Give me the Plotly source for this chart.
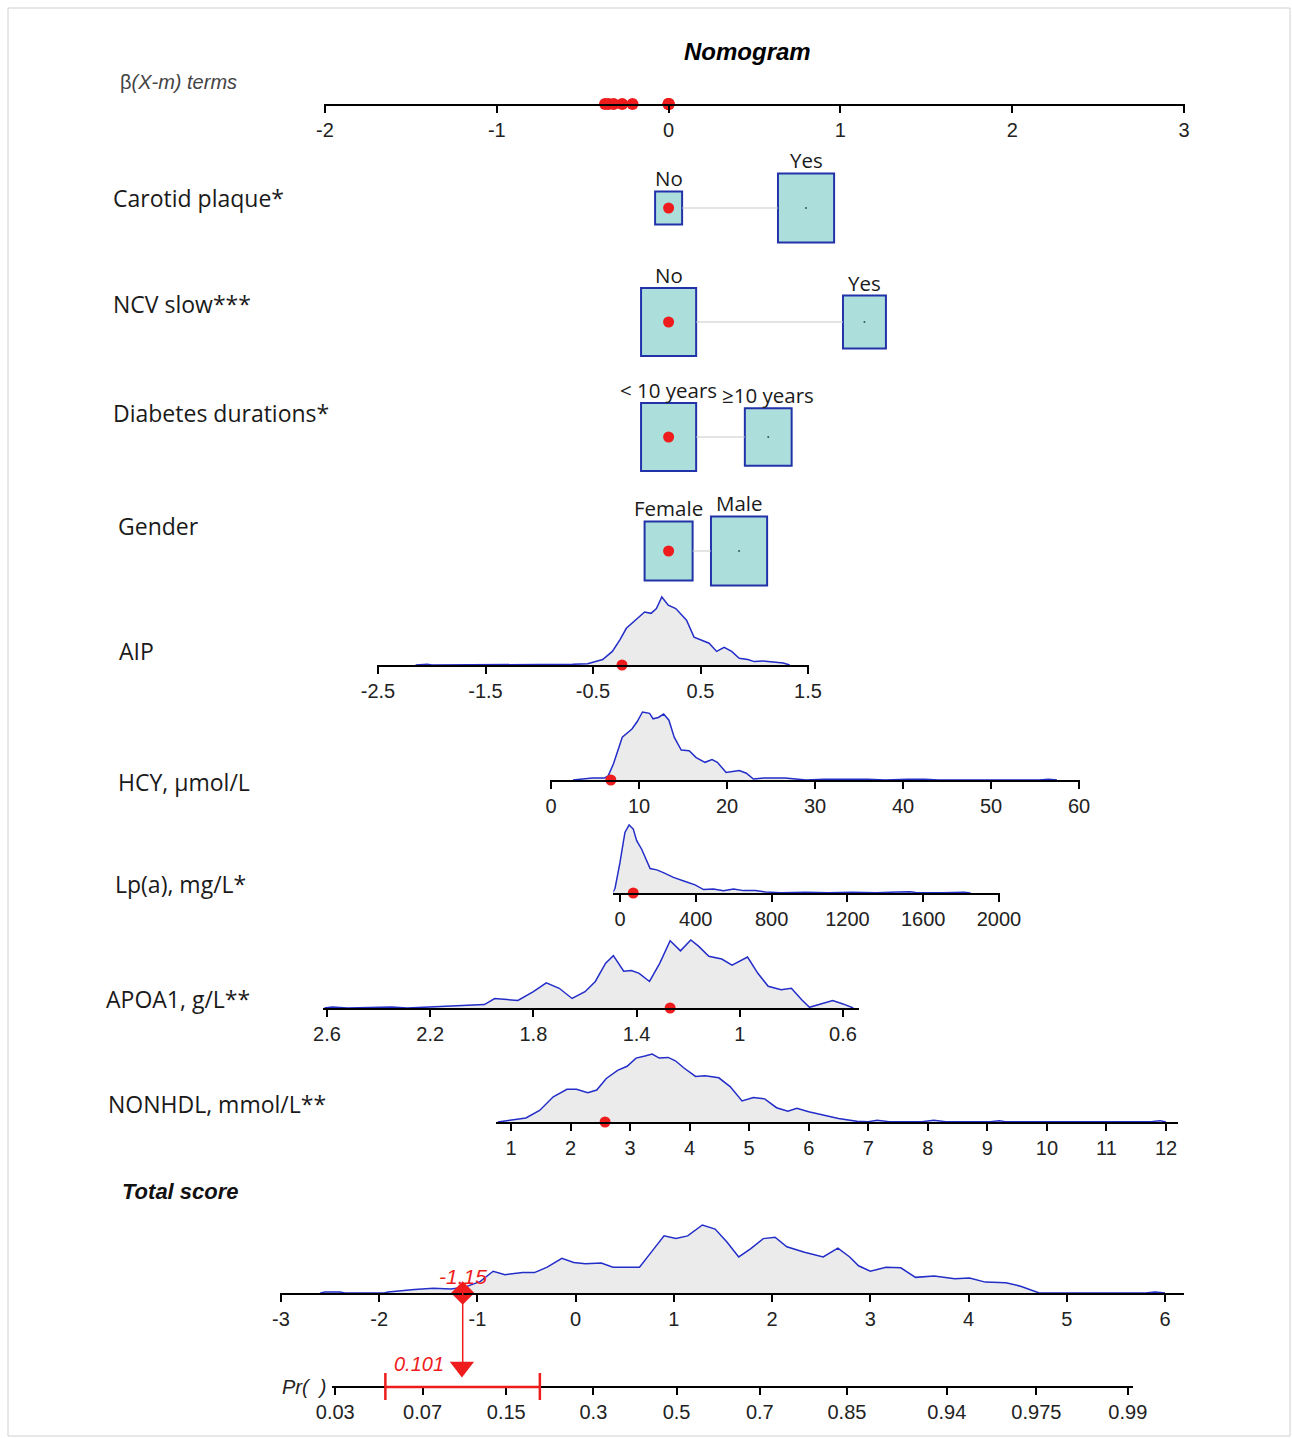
import numpy as np
import plotly.graph_objects as go

W, H = 1292, 1438

# ---------------- data ----------------
beta_terms = [-0.37, -0.35, -0.32, -0.27, -0.21, 0, 0, 0, 0]
beta_ticks = [-2, -1, 0, 1, 2, 3]

cat_names = ["Carotid plaque*", "NCV slow***", "Diabetes durations*", "Gender"]
cat_levels = [["No", "Yes"], ["No", "Yes"], ["< 10 years", "≥10 years"], ["Female", "Male"]]
cat_beta = [[0, 0.80], [0, 1.14], [0, 0.58], [0, 0.41]]
cat_freq = [[0.19, 0.82], [0.79, 0.48], [0.79, 0.57], [0.60, 0.82]]

aip_x = [-2.15, -2.08, -2.04, -2.0, -0.75, -0.69, -0.55, -0.41, -0.32, -0.25, -0.19, -0.11, -0.02, 0.04, 0.09,
         0.14, 0.20, 0.27, 0.37, 0.44, 0.49, 0.58, 0.65, 0.72, 0.79, 0.86, 0.94, 1.0, 1.08, 1.17, 1.27, 1.33]
aip_d = [0, 0.012, 0.012, 0, 0, 0.01, 0.02, 0.08, 0.2, 0.37, 0.54, 0.65, 0.78, 0.76, 0.83,
         1.0, 0.88, 0.83, 0.66, 0.41, 0.38, 0.32, 0.2, 0.26, 0.2, 0.1, 0.08, 0.05, 0.06, 0.05, 0.03, 0]
aip_ticks = [-2.5, -1.5, -0.5, 0.5, 1.5]

hcy_x = [2.5, 3.3, 4.7, 6.1, 6.5, 7.1, 8.1, 9.2, 9.8, 10.4, 11.2, 11.6, 12.2, 12.8, 13.4, 14.0, 14.8, 15.7,
         16.5, 17.5, 18.3, 18.9, 19.9, 21.4, 22.2, 23.0, 24.2, 26.6, 27.9, 29.0, 31.0, 33.5, 36.0, 38.0,
         40.5, 42.5, 44.0, 55.5, 56.5, 57.5]
hcy_d = [0, 0.01, 0.03, 0.03, 0.06, 0.24, 0.63, 0.75, 0.86, 1.0, 0.98, 0.9, 0.92, 0.97, 0.88, 0.63, 0.44, 0.43,
         0.33, 0.26, 0.3, 0.26, 0.11, 0.14, 0.1, 0.015, 0.03, 0.03, 0.01, 0, 0.012, 0.012, 0.01, 0,
         0.012, 0.01, 0, 0, 0.012, 0]
hcy_ticks = [0, 10, 20, 30, 40, 50, 60]

lpa_x = [-40, -26, 0, 26, 48, 70, 88, 115, 159, 194, 229, 282, 344, 396, 441, 493, 546, 599, 652, 714, 766,
         850, 980, 1100, 1225, 1350, 1470, 1530, 1560, 1700, 1815, 1850]
lpa_d = [0, 0.07, 0.45, 0.89, 1.0, 0.94, 0.77, 0.64, 0.36, 0.34, 0.30, 0.23, 0.17, 0.12, 0.05, 0.06, 0.035,
         0.06, 0.035, 0.035, 0.015, 0.005, 0.012, 0.004, 0.012, 0.004, 0.015, 0.02, 0.008, 0.003, 0.012, 0]
lpa_ticks = [0, 400, 800, 1200, 1600, 2000]

apoa1_x = [2.61, 2.58, 2.52, 2.35, 2.29, 2.11, 1.99, 1.95, 1.86, 1.80, 1.75, 1.70, 1.65, 1.60, 1.56, 1.52,
           1.49, 1.45, 1.42, 1.39, 1.35, 1.31, 1.27, 1.23, 1.19, 1.16, 1.12, 1.07, 1.03, 0.97, 0.93, 0.89,
           0.84, 0.80, 0.76, 0.73, 0.69, 0.64, 0.60, 0.56]
apoa1_d = [0, 0.015, 0, 0.015, 0, 0.03, 0.05, 0.14, 0.11, 0.24, 0.37, 0.29, 0.14, 0.24, 0.39, 0.66,
           0.77, 0.54, 0.55, 0.51, 0.39, 0.66, 0.99, 0.84, 1.0, 0.91, 0.76, 0.72, 0.63, 0.75, 0.51, 0.32,
           0.27, 0.29, 0.12, 0.01, 0.05, 0.11, 0.06, 0]
apoa1_ticks = [2.6, 2.2, 1.8, 1.4, 1.0, 0.6]
apoa1_ticktext = ["2.6", "2.2", "1.8", "1.4", "1", "0.6"]

nonhdl_x = [0.78, 1.02, 1.25, 1.48, 1.71, 1.94, 2.10, 2.29, 2.44, 2.60, 2.79, 2.95, 3.10, 3.25, 3.37, 3.49,
            3.64, 3.76, 3.91, 4.10, 4.26, 4.49, 4.68, 4.88, 5.07, 5.26, 5.46, 5.65, 5.80, 6.0, 6.23, 6.5,
            6.81, 7.0, 7.15, 7.35, 7.9, 8.1, 8.3, 9.05, 9.2, 9.3, 11.75, 11.9, 12.0]
nonhdl_d = [0, 0.025, 0.06, 0.17, 0.37, 0.48, 0.48, 0.43, 0.47, 0.64, 0.76, 0.82, 0.94, 0.97, 1.0, 0.94,
            0.95, 0.90, 0.79, 0.67, 0.68, 0.65, 0.52, 0.31, 0.36, 0.34, 0.21, 0.16, 0.2, 0.15, 0.1, 0.05,
            0.01, 0.005, 0.025, 0.005, 0.005, 0.025, 0.005, 0.005, 0.02, 0.005, 0.005, 0.02, 0]
nonhdl_ticks = list(range(1, 13))

total_x = [-2.6, -2.55, -2.4, -2.35, -1.95, -1.91, -1.64, -1.45, -1.27, -1.12, -0.97, -0.84, -0.72, -0.54, -0.42,
           -0.29, -0.14, -0.02, 0.10, 0.26, 0.38, 0.50, 0.65, 0.78, 0.90, 1.02, 1.14, 1.29, 1.42, 1.54,
           1.66, 1.78, 1.91, 2.03, 2.15, 2.33, 2.52, 2.67, 2.79, 2.88, 3.0, 3.16, 3.31, 3.46, 3.65, 3.86,
           4.01, 4.17, 4.38, 4.53, 4.72, 5.8, 5.9, 6.0]
total_d = [0, 0.015, 0.015, 0, 0, 0.015, 0.05, 0.07, 0.06, 0.09, 0.17, 0.32, 0.27, 0.30, 0.30,
           0.38, 0.51, 0.45, 0.43, 0.44, 0.38, 0.38, 0.38, 0.62, 0.84, 0.80, 0.84, 1.0, 0.94, 0.75,
           0.53, 0.65, 0.80, 0.82, 0.68, 0.60, 0.53, 0.66, 0.53, 0.40, 0.32, 0.38, 0.37, 0.23, 0.25, 0.21,
           0.22, 0.16, 0.15, 0.10, 0, 0, 0.015, 0]
total_ticks = list(range(-3, 7))

obs_values = {"AIP": -0.23, "HCY": 6.8, "Lpa": 70, "APOA1": 1.27, "NONHDL": 2.58}
total_obs = -1.15
pr_obs = 0.101
pr_ci = [0.049, 0.199]
pr_ticks = [0.03, 0.07, 0.15, 0.3, 0.5, 0.7, 0.85, 0.94, 0.975, 0.99]
pr_ticktext = ["0.03", "0.07", "0.15", "0.3", "0.5", "0.7", "0.85", "0.94", "0.975", "0.99"]


def logit(p):
    return float(np.log(p / (1 - p)))


# ---------------- layout helpers ----------------
def xd(px):
    return px / W


def yd(py):
    return 1 - py / H


def lin_axis(v1, p1, v2, p2, pl, pr):
    s = (v2 - v1) / (p2 - p1)
    pl, pr = pl - 0.6, pr + 0.6
    return [v1 + (pl - p1) * s, v1 + (pr - p1) * s], [xd(pl), xd(pr)]


def key(prefix, i):
    return prefix if i == 1 else f"{prefix}{i}"


def ref(prefix, i):
    return prefix if i == 1 else f"{prefix}{i}"


TICKFONT = dict(family="Liberation Sans, Arial", size=20, color="#222")
LABELFONT = dict(family="Open Sans, Noto Sans, DejaVu Sans", size=23, color="#1a1a1a")
BOXFONT = dict(family="Open Sans, Noto Sans, DejaVu Sans", size=20.5, color="#1a1a1a")
RED = "#ee1c1c"
BLUE_LINE = "rgb(35,45,200)"
FILL = "#ebebeb"

fig = go.Figure()
layout = dict(template="none", width=W, height=H, autosize=False, margin=dict(l=0, r=0, t=0, b=0, pad=0),
              paper_bgcolor="white", plot_bgcolor="rgba(0,0,0,0)", showlegend=False,
              shapes=[], annotations=[])


def visible_xaxis(i, rng, dom, tickvals, ticktext=None, position=None):
    d = dict(domain=dom, range=rng, showline=True, linecolor="black", linewidth=2,
             ticks="outside", ticklen=7, tickwidth=1.5, tickcolor="black", tickmode="array",
             tickvals=tickvals, ticktext=ticktext if ticktext is not None else [str(t) for t in tickvals],
             tickfont=TICKFONT, showgrid=False, zeroline=False, fixedrange=True, automargin=False)
    if position is not None:
        d["anchor"] = "free"
        d["position"] = position
    else:
        d["anchor"] = ref("y", i)
    layout[key("xaxis", i)] = d


def yaxis(i, dom, rng):
    layout[key("yaxis", i)] = dict(domain=dom, range=rng, visible=False, fixedrange=True,
                                   anchor=ref("x", i), automargin=False)


# ---- row 1: beta terms axis ----
beta_rng, beta_dom = lin_axis(-2, 325, 3, 1184, 325, 1184)
visible_xaxis(1, beta_rng, beta_dom, beta_ticks)
yaxis(1, [yd(104), yd(90)], [0, 1])
fig.add_trace(go.Scatter(x=beta_terms, y=[0] * len(beta_terms), mode="markers", xaxis="x", yaxis="y",
                         marker=dict(color=RED, size=12), cliponaxis=False))

# ---- rows 2-5: categorical boxes ----
px_per_beta = (1184 - 325) / 5
box_centers_px = [208, 322, 437, 551]
label_y_px = [198, 304, 413, 526]
label_x_px = [111, 111, 111, 116]
for k in range(4):
    i = k + 2
    c = box_centers_px[k]
    layout[key("xaxis", i)] = dict(domain=beta_dom, range=beta_rng, visible=False, fixedrange=True,
                                   anchor=ref("y", i), automargin=False)
    yaxis(i, [yd(c + 50), yd(c - 50)], [-50, 50])
    xr, yr = ref("x", i), ref("y", i)
    halfs = []
    for j in range(2):
        hw = 31 * np.sqrt(cat_freq[k][j])
        hh = 1.23 * hw
        halfs.append((hw, hh))
    b0, b1 = cat_beta[k]
    fig.add_trace(go.Scatter(x=[b0 + halfs[0][0] / px_per_beta, b1 - halfs[1][0] / px_per_beta], y=[0, 0],
                             mode="lines", xaxis=xr, yaxis=yr, line=dict(color="#c9c9c9", width=1)))
    for j in range(2):
        b = cat_beta[k][j]
        hw, hh = halfs[j]
        layout["shapes"].append(dict(type="rect", xref=xr, yref=yr, x0=b - hw / px_per_beta,
                                     x1=b + hw / px_per_beta, y0=-hh, y1=hh,
                                     line=dict(color="#2233aa", width=2), fillcolor="rgb(172,222,220)",
                                     layer="below"))
        layout["annotations"].append(dict(xref=xr, yref=yr, x=b, y=hh, yanchor="bottom", xanchor="center",
                                          text=cat_levels[k][j], showarrow=False, font=BOXFONT, yshift=-3))
    fig.add_trace(go.Scatter(x=[cat_beta[k][1]], y=[0], mode="markers", xaxis=xr, yaxis=yr,
                             marker=dict(color="#335566", size=2)))
    fig.add_trace(go.Scatter(x=[cat_beta[k][0]], y=[0], mode="markers", xaxis=xr, yaxis=yr,
                             marker=dict(color=RED, size=11), cliponaxis=False))
    layout["annotations"].append(dict(xref="paper", yref="paper", x=xd(label_x_px[k]), y=yd(label_y_px[k]),
                                      xanchor="left", yanchor="middle", text=cat_names[k],
                                      showarrow=False, font=LABELFONT))

# ---- continuous rows ----
cont = [
    dict(name="AIP", lx=117, ly=651, ay=665, x=aip_x, d=aip_d, obs=obs_values["AIP"],
         map=(-2.5, 378, 1.5, 808, 378, 808), tv=aip_ticks, tt=["-2.5", "-1.5", "-0.5", "0.5", "1.5"]),
    dict(name="HCY, µmol/L", lx=116, ly=782, ay=780, x=hcy_x, d=hcy_d, obs=obs_values["HCY"],
         map=(0, 551, 60, 1079, 551, 1079), tv=hcy_ticks, tt=None),
    dict(name="Lp(a), mg/L*", lx=113, ly=884, ay=893, x=lpa_x, d=lpa_d, obs=obs_values["Lpa"],
         map=(0, 620, 2000, 999, 614, 999), tv=lpa_ticks, tt=None),
    dict(name="APOA1, g/L**", lx=104, ly=999, ay=1008, x=apoa1_x, d=apoa1_d, obs=obs_values["APOA1"],
         map=(2.6, 327, 0.6, 843, 324, 858), tv=apoa1_ticks, tt=apoa1_ticktext),
    dict(name="NONHDL, mmol/L**", lx=106, ly=1104, ay=1122, x=nonhdl_x, d=nonhdl_d, obs=obs_values["NONHDL"],
         map=(1, 511, 12, 1166, 497, 1177), tv=nonhdl_ticks, tt=None),
    dict(name="<b><i>Total score</i></b>", lx=120, ly=1191, ay=1293, x=total_x, d=total_d, obs=total_obs,
         map=(-3, 281, 6, 1165, 281, 1183), tv=total_ticks, tt=None),
]

for k, r in enumerate(cont):
    i = k + 6
    rng, dom = lin_axis(*r["map"])
    visible_xaxis(i, rng, dom, r["tv"], r["tt"])
    yaxis(i, [yd(r["ay"]), yd(r["ay"] - 70)], [0, 70 / 68])
    xr, yr = ref("x", i), ref("y", i)
    fig.add_trace(go.Scatter(x=r["x"], y=r["d"], mode="lines", fill="tozeroy", fillcolor=FILL,
                             xaxis=xr, yaxis=yr, line=dict(color=BLUE_LINE, width=1.5)))
    is_total = r["name"].startswith("<b>")
    fig.add_trace(go.Scatter(x=[r["obs"]], y=[0], mode="markers", xaxis=xr, yaxis=yr, cliponaxis=False,
                             marker=dict(color=RED, size=18 if is_total else 11,
                                         symbol="diamond" if is_total else "circle")))
    font = LABELFONT if not is_total else dict(family="Liberation Sans, Arial", size=22, color="#111")
    layout["annotations"].append(dict(xref="paper", yref="paper", x=xd(r["lx"]), y=yd(r["ly"]),
                                      xanchor="left", yanchor="middle", text=r["name"],
                                      showarrow=False, font=font))

# total score value label
layout["annotations"].append(dict(xref="x11", yref="paper", x=total_obs, y=yd(1276), xanchor="center",
                                  yanchor="middle", text="<i>-1.15</i>", showarrow=False,
                                  font=dict(family="Liberation Sans, Arial", size=21, color=RED)))

# ---- Pr row ----
i = 12
pr_rng, pr_dom = lin_axis(0, 676.6, 1, 676.6 + 98.2, 333, 1132)
visible_xaxis(i, pr_rng, pr_dom, [logit(p) for p in pr_ticks], pr_ticktext, position=yd(1387))
layout["xaxis12"]["layer"] = "below traces"
yaxis(i, [yd(1412), yd(1340)], [-25, 47])
fig.add_trace(go.Scatter(x=[logit(pr_ci[0]), logit(pr_ci[1])], y=[0, 0], mode="lines", xaxis="x12",
                         yaxis="y12", line=dict(color=RED, width=2.5)))
fig.add_trace(go.Scatter(x=[logit(pr_ci[0]), logit(pr_ci[0]), None, logit(pr_ci[1]), logit(pr_ci[1])],
                         y=[-13, 14, None, -13, 14], mode="lines", xaxis="x12", yaxis="y12",
                         line=dict(color=RED, width=2.5)))
fig.add_trace(go.Scatter(x=[logit(pr_obs)], y=[20], mode="markers", xaxis="x12", yaxis="y12",
                         marker=dict(symbol="triangle-down", size=21, color=RED), cliponaxis=False))
layout["shapes"].append(dict(type="line", xref="x11", yref="paper", x0=total_obs, x1=total_obs,
                             y0=yd(1293), y1=yd(1362), line=dict(color=RED, width=1.5)))
layout["annotations"].append(dict(xref="x12", yref="paper", x=logit(pr_obs), y=yd(1364), xanchor="right",
                                  yanchor="middle", xshift=-16, text="<i>0.101</i>", showarrow=False,
                                  font=dict(family="Liberation Sans, Arial", size=20, color=RED)))
layout["annotations"].append(dict(xref="paper", yref="paper", x=xd(280), y=yd(1387), xanchor="left",
                                  yanchor="middle", text="<i>Pr(  )</i>", showarrow=False,
                                  font=dict(family="Liberation Sans, Arial", size=20, color="#222")))

# ---- titles ----
layout["annotations"].append(dict(xref="paper", yref="paper", x=xd(747), y=yd(52), xanchor="center",
                                  yanchor="middle", text="<b><i>Nomogram</i></b>", showarrow=False,
                                  font=dict(family="Liberation Sans, Arial", size=24, color="#000")))
layout["annotations"].append(dict(xref="paper", yref="paper", x=xd(118), y=yd(82), xanchor="left",
                                  yanchor="middle", text="β<i>(X-m) terms</i>", showarrow=False,
                                  font=dict(family="Liberation Sans, Arial", size=20, color="#444")))

# border
layout["shapes"].append(dict(type="rect", xref="paper", yref="paper", x0=xd(8), x1=xd(1290),
                             y0=yd(1436), y1=yd(8), line=dict(color="#d0d0d0", width=1), layer="below"))

fig.update_layout(**layout)
fig.write_html("out.html")
